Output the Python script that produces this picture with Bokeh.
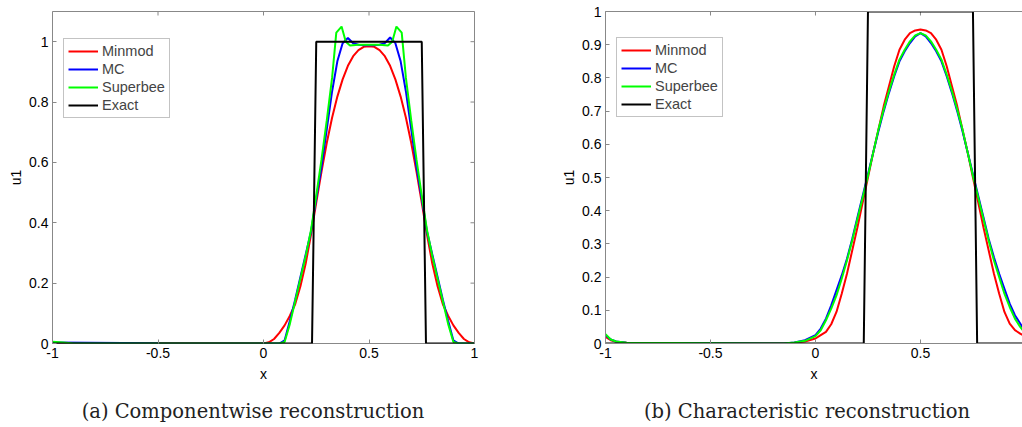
import math
from bokeh.plotting import figure
from bokeh.models import Range1d, LinearAxis, FixedTicker, Legend, LegendItem, Div
from bokeh.layouts import row, column
from bokeh.embed import file_html
from bokeh.resources import INLINE

# ---------------- data ----------------
series_names = ["Minmod", "MC", "Superbee", "Exact"]
series_colors = ["#ff0000", "#0000ff", "#00ff00", "#000000"]

x_ticks = [-1, -0.5, 0, 0.5, 1]
x_tick_labels = ["-1", "-0.5", "0", "0.5", "1"]
a_y_ticks = [0, 0.2, 0.4, 0.6, 0.8, 1]
a_y_tick_labels = ["0", "0.2", "0.4", "0.6", "0.8", "1"]
b_y_ticks = [0, 0.1, 0.2, 0.3, 0.4, 0.5, 0.6, 0.7, 0.8, 0.9, 1]
b_y_tick_labels = ["0", "0.1", "0.2", "0.3", "0.4", "0.5", "0.6", "0.7", "0.8", "0.9", "1"]
captions = ["(a) Componentwise reconstruction", "(b) Characteristic reconstruction"]

# (a) Componentwise reconstruction
a_minmod_x = [-1.0, -0.5, 0.0, 0.025, 0.05, 0.075, 0.1, 0.125, 0.15, 0.175, 0.2, 0.225, 0.25,
              0.275, 0.3, 0.325, 0.35, 0.375, 0.4, 0.425, 0.45, 0.475, 0.5, 0.525, 0.55, 0.575,
              0.6, 0.625, 0.65, 0.675, 0.7, 0.725, 0.75, 0.775, 0.8, 0.825, 0.85, 0.875, 0.9,
              0.925, 0.95, 0.975, 1.0]
a_minmod_y = [0.002, 0.001, 0.0, 0.004, 0.015, 0.035, 0.06, 0.092, 0.13, 0.19, 0.265, 0.36, 0.467,
              0.57, 0.665, 0.748, 0.818, 0.875, 0.92, 0.952, 0.972, 0.983, 0.985, 0.983, 0.972, 0.952,
              0.92, 0.875, 0.818, 0.748, 0.665, 0.57, 0.467, 0.36, 0.265, 0.19, 0.13, 0.092, 0.06,
              0.035, 0.015, 0.004, 0.0]

a_mc_x = [-1.0, -0.5, 0.075, 0.1, 0.125, 0.15, 0.175, 0.2, 0.225, 0.25, 0.275, 0.3, 0.325, 0.35,
          0.375, 0.4, 0.425, 0.45, 0.475, 0.5, 0.525, 0.55, 0.575, 0.6, 0.625, 0.65, 0.675, 0.7,
          0.725, 0.75, 0.775, 0.8, 0.825, 0.85, 0.875, 0.9, 0.925, 1.0]
a_mc_y = [0.003, 0.001, 0.0, 0.01, 0.075, 0.145, 0.22, 0.295, 0.37, 0.48, 0.585, 0.71, 0.835, 0.935,
          0.995, 1.012, 0.995, 0.99, 0.988, 0.988, 0.988, 0.99, 0.995, 1.014, 0.995, 0.935, 0.835, 0.71,
          0.585, 0.48, 0.37, 0.295, 0.22, 0.145, 0.075, 0.01, 0.0, 0.0]

a_sb_x = [-1.0, -0.95, -0.9, 0.075, 0.1, 0.125, 0.15, 0.175, 0.2, 0.225, 0.25, 0.275, 0.3, 0.325,
          0.345, 0.37, 0.39, 0.41, 0.45, 0.5, 0.55, 0.59, 0.61, 0.63, 0.655, 0.675, 0.7, 0.725,
          0.75, 0.775, 0.8, 0.825, 0.85, 0.875, 0.9, 0.925, 1.0]
a_sb_y = [0.006, 0.003, 0.0, 0.0, 0.005, 0.065, 0.14, 0.215, 0.29, 0.375, 0.49, 0.61, 0.74, 0.88,
          1.03, 1.05, 1.0, 0.987, 0.99, 0.99, 0.99, 0.987, 1.0, 1.05, 1.03, 0.88, 0.74, 0.61,
          0.49, 0.375, 0.29, 0.215, 0.14, 0.065, 0.005, 0.0, 0.0]

exact_x = [-1.0, 0.23, 0.25, 0.75, 0.77, 1.0]
exact_y = [0.0, 0.0, 1.0, 1.0, 0.0, 0.0]

# (b) Characteristic reconstruction
b_x = [-1.0, -0.975, -0.95, -0.9, -0.15, -0.1, -0.05, 0.0, 0.025, 0.05, 0.075, 0.1, 0.125, 0.15,
       0.175, 0.2, 0.225, 0.25, 0.275, 0.3, 0.325, 0.35, 0.375, 0.4, 0.425, 0.45, 0.475, 0.5,
       0.525, 0.55, 0.575, 0.6, 0.625, 0.65, 0.675, 0.7, 0.725, 0.75, 0.775, 0.8, 0.825, 0.85,
       0.875, 0.9, 0.925, 0.95, 0.975, 1.0]
b_minmod_y = [0.02, 0.01, 0.005, 0.002, 0.0, 0.002, 0.006, 0.015, 0.025, 0.035, 0.058, 0.095, 0.15, 0.21,
              0.28, 0.35, 0.425, 0.5, 0.575, 0.645, 0.715, 0.775, 0.835, 0.885, 0.915, 0.935, 0.943, 0.946,
              0.943, 0.935, 0.915, 0.885, 0.835, 0.775, 0.715, 0.645, 0.575, 0.5, 0.425, 0.35, 0.28, 0.21,
              0.15, 0.095, 0.06, 0.04, 0.03, 0.02]
b_mc_y = [0.025, 0.012, 0.006, 0.002, 0.0, 0.003, 0.01, 0.025, 0.045, 0.075, 0.115, 0.16, 0.205, 0.255,
          0.315, 0.38, 0.445, 0.51, 0.575, 0.64, 0.70, 0.755, 0.805, 0.85, 0.88, 0.905, 0.925, 0.935,
          0.925, 0.905, 0.88, 0.85, 0.805, 0.755, 0.70, 0.64, 0.575, 0.51, 0.445, 0.38, 0.315, 0.26,
          0.21, 0.165, 0.12, 0.085, 0.06, 0.035]
b_sb_y = [0.028, 0.012, 0.006, 0.002, 0.0, 0.003, 0.008, 0.022, 0.04, 0.07, 0.105, 0.145, 0.195, 0.25,
          0.31, 0.375, 0.44, 0.505, 0.575, 0.645, 0.705, 0.76, 0.81, 0.855, 0.885, 0.91, 0.928, 0.935,
          0.928, 0.91, 0.885, 0.855, 0.81, 0.76, 0.705, 0.645, 0.575, 0.505, 0.44, 0.375, 0.31, 0.25,
          0.2, 0.15, 0.11, 0.075, 0.05, 0.03]

# ---------------- styling ----------------
FRAME = "#888888"
SANS = "Liberation Sans"
H = 395          # figure height (frame bottom at 343)
CAP_H = 31       # caption strip height


def style_axis(ax, ticks, labels, line=True):
    ax.ticker = FixedTicker(ticks=ticks)
    ax.major_label_overrides = {t: l for t, l in zip(ticks, labels)}
    ax.major_tick_in = 4
    ax.major_tick_out = 0
    ax.minor_tick_in = 0
    ax.minor_tick_out = 0
    ax.major_tick_line_color = FRAME
    ax.axis_line_color = FRAME if line else None
    ax.major_label_text_font = SANS
    ax.major_label_text_color = "#000000"
    ax.major_label_text_font_size = "14px"
    ax.major_label_standoff = 4
    ax.axis_label_text_font = SANS
    ax.axis_label_text_font_size = "14px"
    ax.axis_label_text_font_style = "normal"
    ax.axis_label_text_color = "#000000"


def make_panel(width, frame_left, frame_right_pad, top, x_end, y_end, y_ticks, y_labels,
               lines, full_box, leg_y):
    p = figure(width=width, height=H, output_backend="svg", toolbar_location=None,
               x_range=Range1d(-1, x_end), y_range=Range1d(0, y_end),
               min_border_left=frame_left, min_border_right=frame_right_pad,
               min_border_top=top, min_border_bottom=H - 343)
    p.grid.visible = False
    p.background_fill_color = "white"
    p.border_fill_color = "white"
    p.outline_line_color = FRAME if full_box else None

    style_axis(p.xaxis[0], x_ticks, x_tick_labels, line=not full_box)
    style_axis(p.yaxis[0], y_ticks, y_labels, line=not full_box)
    p.xaxis[0].axis_label = "x"
    p.xaxis[0].axis_label_standoff = 5
    p.yaxis[0].axis_label = "u1"
    p.yaxis[0].axis_label_standoff = 2

    if not full_box:
        top_ax = LinearAxis(ticker=FixedTicker(ticks=[]), axis_line_color=FRAME,
                            major_tick_in=0, major_tick_out=0, minor_tick_in=0, minor_tick_out=0,
                            major_label_standoff=0)
        p.add_layout(top_ax, "above")

    # inward tick marks on the top edge (and right edge for the full box)
    top_ticks = [t for t in x_ticks if -1 <= t <= x_end]
    p.scatter(top_ticks, [y_end] * len(top_ticks), marker="dash", angle=math.pi / 2,
              size=8, line_color=FRAME, line_width=1)
    if full_box:
        p.scatter([x_end] * len(y_ticks), y_ticks, marker="dash", size=8,
                  line_color=FRAME, line_width=1)

    items = []
    for (xs, ys), name, color in zip(lines, series_names, series_colors):
        r = p.line(xs, ys, line_color=color, line_width=2)
        items.append(LegendItem(label=name, renderers=[r]))

    leg = Legend(items=items, location=(11, leg_y), glyph_width=30, glyph_height=14,
                 label_height=14, spacing=2, padding=4, margin=0, label_standoff=4,
                 label_text_font=SANS, label_text_font_size="14.5px",
                 border_line_color=FRAME, border_line_width=1,
                 background_fill_color="white", background_fill_alpha=1)
    p.add_layout(leg)
    return p


def caption_div(text, width, left, inner_width):
    html = ('<div style="margin-left:%dpx; width:%dpx; text-align:center; '
            'font-family:\'DejaVu Serif\'; font-size:19.5px; line-height:%dpx; '
            'color:#222222; white-space:nowrap;">%s</div>' % (left, inner_width, CAP_H + 3, text))
    return Div(text=html, width=width, height=CAP_H, margin=0)


pa = make_panel(540, 52, 66, 10, 1.0, 1.1, a_y_ticks, a_y_tick_labels,
                [(a_minmod_x, a_minmod_y), (a_mc_x, a_mc_y), (a_sb_x, a_sb_y), (exact_x, exact_y)],
                True, 225)
pb = make_panel(482, 65, 0, 11, 0.986, 1.0, b_y_ticks, b_y_tick_labels,
                [(b_x, b_minmod_y), (b_x, b_mc_y), (b_x, b_sb_y), (exact_x, exact_y)],
                False, 226)

cap_a = caption_div(captions[0], 540, 0, 506)
cap_b = caption_div(captions[1], 482, 52, 430)

layout = column(row(pa, pb, spacing=0), row(cap_a, cap_b, spacing=0), spacing=0)
open("out.html", "w").write(file_html(layout, INLINE))
